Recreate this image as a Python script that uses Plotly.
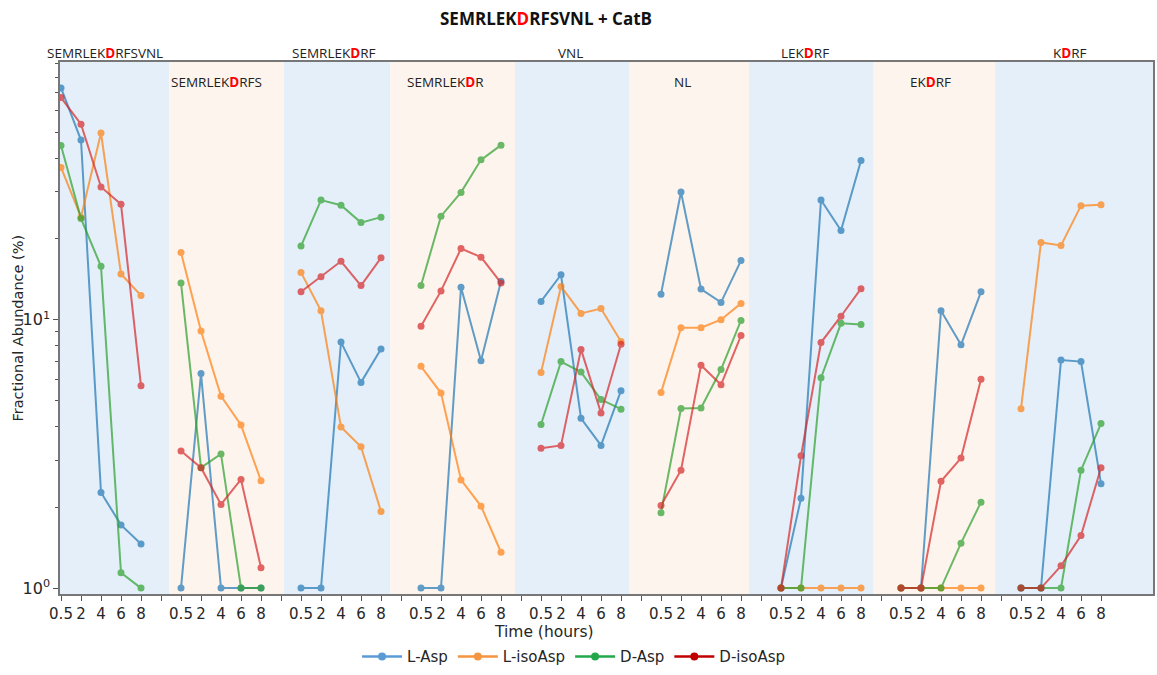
import plotly.graph_objects as go

# ---------------- data ----------------
PANELS = ["SEMRLEKDRFSVNL", "SEMRLEKDRFS", "SEMRLEKDRF", "SEMRLEKDR",
          "VNL", "NL", "LEKDRF", "EKDRF", "KDRF"]
TIMES = ["0.5", "2", "4", "6", "8"]
SERIES = ["L-Asp", "L-isoAsp", "D-Asp", "D-isoAsp"]

L_ASP = [
    [73.0, 46.7, 2.27, 1.72, 1.46],
    [1.0, 6.3, 1.0, 1.0, 1.0],
    [1.0, 1.0, 8.25, 5.84, 7.77],
    [1.0, 1.0, 13.2, 7.03, 13.9],
    [11.7, 14.7, 4.29, 3.40, 5.44],
    [12.45, 29.9, 13.0, 11.6, 16.6],
    [1.0, 2.16, 27.9, 21.5, 39.2],
    [1.0, 1.0, 10.8, 8.06, 12.7],
    [1.0, 1.0, 7.07, 6.98, 2.45],
]
L_ISOASP = [
    [36.9, 24.1, 49.6, 14.8, 12.3],
    [17.8, 9.07, 5.19, 4.05, 2.51],
    [15.0, 10.8, 3.98, 3.36, 1.93],
    [6.70, 5.33, 2.53, 2.02, 1.36],
    [6.35, 13.3, 10.55, 11.0, 8.29],
    [5.35, 9.34, 9.34, 10.0, 11.5],
    [1.0, 1.0, 1.0, 1.0, 1.0],
    [1.0, 1.0, 1.0, 1.0, 1.0],
    [4.66, 19.4, 18.9, 26.6, 26.8],
]
D_ASP = [
    [44.6, 23.8, 15.8, 1.14, 1.0],
    [13.7, 2.81, 3.16, 1.0, 1.0],
    [18.8, 27.9, 26.7, 23.0, 24.1],
    [13.4, 24.3, 29.8, 39.4, 44.7],
    [4.07, 6.98, 6.38, 5.04, 4.64],
    [1.91, 4.67, 4.69, 6.52, 9.94],
    [1.0, 1.0, 6.07, 9.69, 9.59],
    [1.0, 1.0, 1.0, 1.47, 2.09],
    [1.0, 1.0, 1.0, 2.75, 4.10],
]
D_ISOASP = [
    [67.2, 53.5, 31.2, 26.9, 5.67],
    [3.24, 2.81, 2.05, 2.54, 1.19],
    [12.7, 14.45, 16.5, 13.4, 17.0],
    [9.45, 12.8, 18.4, 17.1, 13.7],
    [3.32, 3.40, 7.75, 4.49, 8.10],
    [2.03, 2.75, 6.76, 5.72, 8.73],
    [1.0, 3.11, 8.22, 10.3, 13.05],
    [1.0, 1.0, 2.50, 3.05, 6.0],
    [1.0, 1.0, 1.21, 1.57, 2.81],
]

# ---------------- styling ----------------
LINE_COLORS = ["#1f77b4", "#ff7f0e", "#2ca02c", "#d62728"]
LEGEND_COLORS = ["#5b9bd5", "#f5953f", "#22a84a", "#c00000"]
BG_COLORS = ["#e4eff9", "#fdf4ee"]
# background band edges (in slot units along the x axis)
BAND_EDGES = [-0.05, 5.41, 11.14, 16.47, 22.70, 28.43, 34.40, 40.63, 46.71, 54.6]
# panel title centres (pixels)
TITLE_X = [105, 217, 335, 446, 571, 684, 806, 932, 1072]

PLOT_L, PLOT_R, PLOT_T, PLOT_B = 60, 1155, 62, 597
W, H = 1157, 675
PW, PH = PLOT_R - PLOT_L, PLOT_B - PLOT_T

SLOTS = len(TIMES) + 1


def red_d(name):
    if "D" not in name:
        return name
    i = name.index("D")
    return name[:i] + "<span style='color:#ff0000'><b>D</b></span>" + name[i + 1:]


fig = go.Figure()

all_series = [L_ASP, L_ISOASP, D_ASP, D_ISOASP]
for name, data, col in zip(SERIES, all_series, LINE_COLORS):
    xs, ys = [], []
    for k, vals in enumerate(data):
        for i, v in enumerate(vals):
            xs.append(k * SLOTS + i)
            ys.append(v)
        xs.append(None)
        ys.append(None)
    fig.add_trace(go.Scatter(
        x=xs, y=ys, mode="lines+markers", name=name, showlegend=False,
        line=dict(color=col, width=2), marker=dict(color=col, size=7),
        opacity=0.7, connectgaps=False))

for name, col in zip(SERIES, LEGEND_COLORS):
    fig.add_trace(go.Scatter(
        x=[None], y=[None], mode="lines+markers", name=name,
        line=dict(color=col, width=2.5), marker=dict(color=col, size=8)))

# background bands
shapes = []
for k in range(len(PANELS)):
    shapes.append(dict(type="rect", xref="x", yref="paper",
                       x0=BAND_EDGES[k], x1=BAND_EDGES[k + 1], y0=0, y1=1,
                       fillcolor=BG_COLORS[k % 2], line=dict(width=0),
                       layer="below"))

# ticks
n_ticks = (len(PANELS) - 1) * SLOTS + len(TIMES)
tickvals = list(range(n_ticks))
ticktext = [TIMES[t % SLOTS] if t % SLOTS < len(TIMES) else "" for t in tickvals]

annotations = []
for k, name in enumerate(PANELS):
    above = (k % 2 == 0)
    annotations.append(dict(
        text=red_d(name), xref="paper", yref="paper",
        x=(TITLE_X[k] - PLOT_L) / PW,
        y=(PLOT_B - (53 if above else 82)) / PH,
        xanchor="center", yanchor="middle", showarrow=False,
        font=dict(family="Open Sans", size=13.5, color="#222222")))

annotations.append(dict(
    text="<b>SEMRLEK<span style='color:#ff0000'>D</span>RFSVNL + CatB</b>",
    xref="paper", yref="paper", x=(547 - PLOT_L) / PW, y=(PLOT_B - 18) / PH,
    xanchor="center", yanchor="middle", showarrow=False,
    font=dict(family="Open Sans", size=17, color="#111111")))
annotations.append(dict(
    text="Time (hours)", xref="paper", yref="paper",
    x=(545 - PLOT_L) / PW, y=(PLOT_B - 635) / PH,
    xanchor="center", yanchor="middle", showarrow=False,
    font=dict(family="DejaVu Sans", size=15.5, color="#262626")))
annotations.append(dict(
    text="Fractional Abundance (%)", xref="paper", yref="paper",
    x=(18 - PLOT_L) / PW, y=(PLOT_B - 330) / PH, textangle=-90,
    xanchor="center", yanchor="middle", showarrow=False,
    font=dict(family="DejaVu Sans", size=14.5, color="#262626")))

fig.update_layout(
    width=W, height=H,
    margin=dict(l=PLOT_L, r=W - PLOT_R, t=PLOT_T, b=H - PLOT_B, pad=0),
    paper_bgcolor="white", plot_bgcolor="white",
    shapes=shapes, annotations=annotations,
    showlegend=True,
    legend=dict(orientation="h", x=(575 - PLOT_L) / PW, xanchor="center",
                y=(PLOT_B - 660) / PH, yanchor="middle",
                font=dict(family="DejaVu Sans", size=15, color="#262626"),
                bgcolor="rgba(0,0,0,0)", itemwidth=40),
    xaxis=dict(range=[BAND_EDGES[0], BAND_EDGES[-1]], tickmode="array",
               tickvals=tickvals, ticktext=ticktext, tickangle=0,
               ticks="outside", ticklen=5, tickcolor="#555555",
               showgrid=False, zeroline=False,
               showline=True, linecolor="#777777", linewidth=1.5, mirror=True,
               tickfont=dict(family="DejaVu Sans", size=15, color="#262626")),
    yaxis=dict(type="log", range=[-0.022, 1.96], tickmode="array",
               tickvals=[1, 10], ticktext=["10<sup>0</sup>", "10<sup>1</sup>"],
               ticks="outside", ticklen=5, tickcolor="#555555",
               minor=dict(tickmode="array",
                          tickvals=[2, 3, 4, 5, 6, 7, 8, 9, 20, 30, 40, 50, 60, 70, 80, 90],
                          ticks="outside", ticklen=3, tickcolor="#555555",
                          showgrid=False),
               showgrid=False, zeroline=False,
               showline=True, linecolor="#777777", linewidth=1.5, mirror=True,
               tickfont=dict(family="DejaVu Sans", size=16, color="#262626")),
)

fig.write_html("out.html")
